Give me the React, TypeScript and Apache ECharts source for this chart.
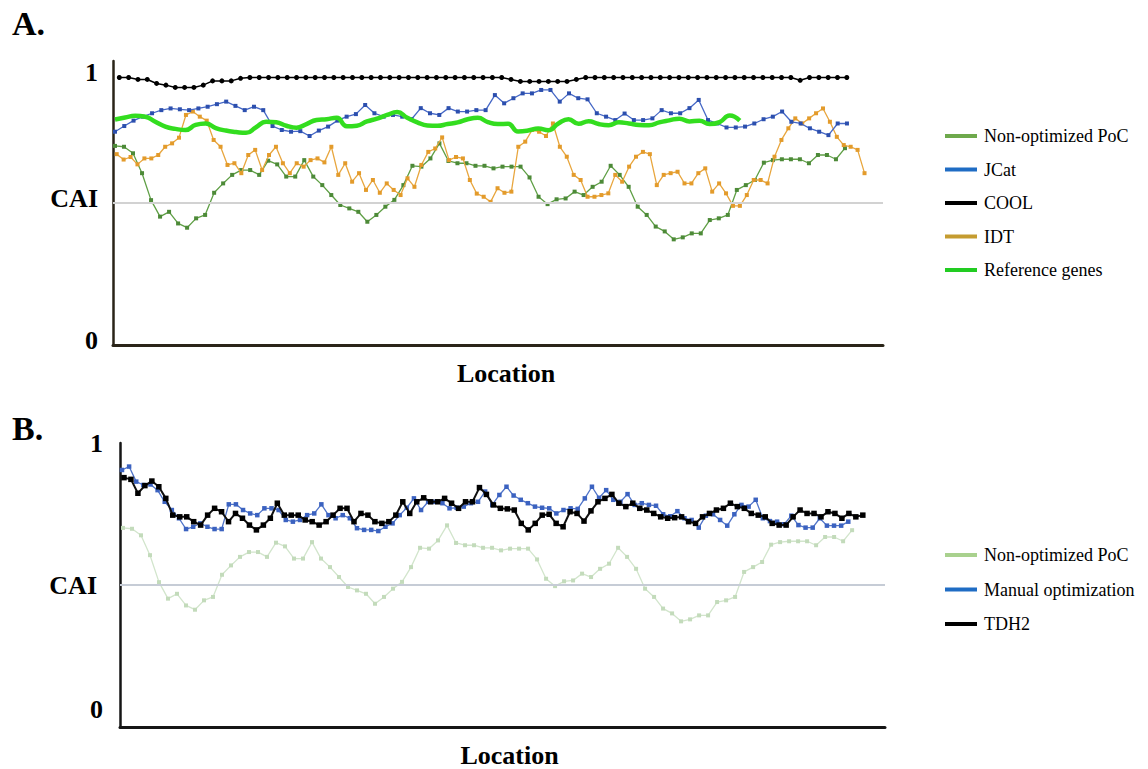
import { useEffect, useRef } from "react";
import * as echarts from "echarts";

// ---------- Data (CAI along the sequence location) ----------
const NON_OPTIMIZED = [
  0.701, 0.698, 0.675, 0.605, 0.51, 0.452, 0.469, 0.428, 0.413, 0.446, 0.458, 0.536, 0.569, 0.599, 0.616, 0.616,
  0.599, 0.649, 0.636, 0.593, 0.593, 0.651, 0.593, 0.563, 0.528, 0.493, 0.481, 0.469, 0.434, 0.458, 0.487, 0.511,
  0.563, 0.631, 0.628, 0.657, 0.71, 0.648, 0.64, 0.64, 0.631, 0.631, 0.622, 0.628,
  0.628, 0.628, 0.59, 0.522, 0.496, 0.513, 0.516, 0.54, 0.528,
  0.557, 0.575, 0.631, 0.599, 0.557, 0.487, 0.458, 0.417, 0.4, 0.372, 0.379, 0.393, 0.393, 0.44, 0.446, 0.458,
  0.546, 0.563, 0.581, 0.642, 0.651, 0.654, 0.654, 0.654, 0.64, 0.669, 0.669, 0.654, 0.693,
];

const JCAT = [
  0.751, 0.771, 0.79, 0.804, 0.816, 0.827, 0.833, 0.83, 0.827, 0.833, 0.839, 0.848, 0.857, 0.842, 0.827, 0.839,
  0.827, 0.771, 0.757, 0.751, 0.753, 0.736, 0.755, 0.769, 0.79, 0.804, 0.813,
  0.845, 0.816, 0.804, 0.81, 0.804, 0.795, 0.834, 0.816, 0.81, 0.834, 0.822, 0.822, 0.827, 0.827, 0.88, 0.851,
  0.869, 0.886, 0.886, 0.898, 0.898, 0.857, 0.886, 0.869, 0.865, 0.816, 0.804, 0.792, 0.815,
  0.792, 0.792, 0.798, 0.827, 0.816, 0.816, 0.834, 0.863, 0.792, 0.78, 0.766, 0.766, 0.769, 0.78, 0.795, 0.804,
  0.822, 0.786, 0.78, 0.763, 0.751, 0.739, 0.78, 0.78,
];

const COOL = [
  0.942, 0.942, 0.935, 0.935, 0.921, 0.915, 0.907, 0.907, 0.907, 0.915, 0.93, 0.93, 0.93, 0.939,
  0.942, 0.942, 0.942, 0.942, 0.942, 0.942, 0.942, 0.942, 0.942, 0.942, 0.942, 0.942, 0.942, 0.942,
  0.942, 0.942, 0.942, 0.942, 0.942, 0.942, 0.942, 0.942, 0.942, 0.942, 0.942, 0.942, 0.942, 0.942,
  0.935, 0.928, 0.928, 0.928, 0.928, 0.928, 0.928, 0.935,
  0.942, 0.942, 0.942, 0.942, 0.942, 0.942, 0.942, 0.942, 0.942, 0.942, 0.942, 0.942, 0.942, 0.942,
  0.942, 0.942, 0.942, 0.942, 0.942, 0.942, 0.942, 0.942, 0.942,
  0.932, 0.942, 0.942, 0.942, 0.942, 0.942,
];

const IDT = [
  0.672, 0.653, 0.662, 0.636, 0.657, 0.657, 0.669, 0.698, 0.71, 0.73, 0.81, 0.822, 0.804, 0.79, 0.722, 0.698,
  0.634, 0.64, 0.605, 0.669, 0.687, 0.616, 0.669, 0.698, 0.64, 0.605, 0.64, 0.628, 0.651, 0.657, 0.643, 0.698,
  0.599, 0.64, 0.575, 0.605, 0.546, 0.581, 0.536, 0.569, 0.546, 0.528, 0.587, 0.557, 0.634, 0.68, 0.692, 0.731,
  0.651, 0.662, 0.657, 0.581, 0.533, 0.522, 0.504, 0.552,
  0.536, 0.54, 0.698, 0.716, 0.757, 0.751, 0.736, 0.78, 0.698, 0.663, 0.599, 0.581, 0.522, 0.522, 0.528, 0.534,
  0.599, 0.575, 0.628, 0.663, 0.68, 0.672, 0.563, 0.599, 0.605, 0.61, 0.569, 0.569, 0.605, 0.622, 0.54, 0.569,
  0.534, 0.49, 0.49, 0.528, 0.581, 0.581, 0.569, 0.663, 0.722, 0.763, 0.798, 0.78, 0.798, 0.816, 0.833, 0.786,
  0.733, 0.704, 0.698, 0.687, 0.605,
];

const REFERENCE = [
  0.794, 0.801, 0.807, 0.804, 0.786, 0.769, 0.761, 0.757, 0.775, 0.78,
  0.764, 0.755, 0.75, 0.747, 0.767, 0.786, 0.784, 0.772, 0.765, 0.778,
  0.792, 0.795, 0.8, 0.77, 0.772, 0.787, 0.797, 0.81, 0.82, 0.8,
  0.784, 0.773, 0.772, 0.778, 0.784, 0.795, 0.8, 0.785, 0.778, 0.779,
  0.752, 0.755, 0.762, 0.756, 0.78, 0.795, 0.779, 0.788, 0.778, 0.774,
  0.784, 0.78, 0.775, 0.774, 0.784, 0.791, 0.797, 0.787, 0.79, 0.778,
  0.785, 0.808, 0.79,
];

const TDH2 = [
  0.878, 0.872, 0.823, 0.85, 0.866, 0.846, 0.805, 0.746, 0.74, 0.74, 0.723, 0.711, 0.746, 0.77, 0.758, 0.723,
  0.752, 0.735, 0.711, 0.694, 0.711, 0.735, 0.788, 0.746, 0.746, 0.746, 0.729, 0.723, 0.711, 0.723, 0.746, 0.77,
  0.77, 0.723, 0.752, 0.746, 0.723,
  0.717, 0.723, 0.746, 0.793, 0.752, 0.793, 0.807, 0.793, 0.793, 0.805, 0.788, 0.77, 0.793, 0.793, 0.843, 0.819,
  0.782, 0.77, 0.768, 0.764, 0.717, 0.694, 0.717, 0.746, 0.749, 0.717, 0.705, 0.758, 0.752, 0.725, 0.761, 0.793,
  0.805, 0.819, 0.788,
  0.776, 0.788, 0.77, 0.764, 0.752, 0.74, 0.735, 0.737, 0.74, 0.723, 0.717, 0.74, 0.752, 0.764, 0.77, 0.788,
  0.776, 0.77, 0.752, 0.746, 0.74, 0.717, 0.711, 0.711, 0.74, 0.764, 0.752, 0.752, 0.74, 0.758, 0.752, 0.735,
  0.752, 0.74, 0.746,
];

const MANUAL = [
  0.905, 0.917, 0.864, 0.852, 0.854, 0.834, 0.793, 0.764, 0.735, 0.697, 0.705, 0.717, 0.705, 0.697, 0.697, 0.784,
  0.784, 0.764, 0.752, 0.746, 0.77, 0.77, 0.764, 0.729, 0.723, 0.729, 0.746, 0.752, 0.784, 0.746, 0.735, 0.746,
  0.735, 0.7, 0.694, 0.694, 0.69,
  0.705, 0.717, 0.746, 0.772, 0.805, 0.764, 0.793, 0.793, 0.788, 0.77, 0.772, 0.776, 0.788, 0.793, 0.829, 0.782,
  0.817, 0.846, 0.815, 0.8, 0.788, 0.776, 0.772, 0.77, 0.752, 0.764, 0.77, 0.768, 0.805, 0.846, 0.807, 0.834,
  0.8, 0.793, 0.82,
  0.782, 0.788, 0.782, 0.779, 0.749, 0.742, 0.76, 0.735, 0.729, 0.702, 0.744, 0.749, 0.729, 0.709, 0.749, 0.782,
  0.776, 0.8, 0.735, 0.725, 0.723, 0.714, 0.744, 0.711, 0.702, 0.702, 0.735, 0.709, 0.709, 0.709, 0.723,
];

const Y_TICK_VALUES = [0, 0.5, 1];
const Y_TICK_LABELS = ["0", "CAI", "1"];
const THRESHOLD = 0.5;

const LEGEND_A = ["Non-optimized PoC", "JCat", "COOL", "IDT", "Reference genes"];
const LEGEND_B = ["Non-optimized PoC", "Manual optimization", "TDH2"];

// ---------- Layout / style (not data) ----------
const SERIF = "Liberation Serif";
// [start, end] of each series along the location axis (0..100)
const SPAN = {
  aNon: [0.26, 95.06],
  aJcat: [0.26, 95.32],
  aCool: [0.82, 95.3],
  aIdt: [0.48, 97.6],
  aRef: [0.26, 81.4],
  bNon: [0.39, 95.7],
  bManual: [0.26, 95.2],
  bTdh2: [0.52, 97.1],
};

function spread(values: number[], span: number[]) {
  const step = (span[1] - span[0]) / (values.length - 1);
  return values.map((v, i) => [span[0] + i * step, v]);
}

function yLabel(v: number, panel: "a" | "b") {
  const idx = Y_TICK_VALUES.indexOf(v);
  if (idx < 0) return "";
  const t = Y_TICK_LABELS[idx];
  const key = v === 1 ? "hi" : v === 0 ? "lo" : "mid";
  return `{${panel}${key}|${t}}`;
}

const labelFont = { fontFamily: SERIF, fontWeight: "bold" as const, fontSize: 26, color: "#000" };
const legendText = { fontFamily: SERIF, fontSize: 18, color: "#000", padding: [0, 0, 0, 2] };

export default function App() {
  const ref = useRef<HTMLDivElement>(null);

  useEffect(() => {
    document.body.style.margin = "0";
    if (!ref.current) return;
    const chart = echarts.init(ref.current, null, { renderer: "svg" });

    const xAxisBase = (gridIndex: number, color: string, width: number, pad: number) => ({
      type: "value" as const,
      gridIndex,
      min: 0,
      max: 100,
      axisLine: { show: true, lineStyle: { color, width } },
      axisTick: { show: false },
      axisLabel: { show: false },
      splitLine: { show: false },
      name: "Location",
      nameLocation: "middle" as const,
      nameGap: 28,
      nameTextStyle: { ...labelFont, verticalAlign: "middle", padding: [0, 0, 0, pad] },
    });

    const yAxisBase = (gridIndex: number, panel: "a" | "b", color: string, margin: number) => ({
      type: "value" as const,
      gridIndex,
      min: 0,
      max: 1,
      interval: 0.5,
      axisLine: { show: true, lineStyle: { color, width: 2.5 } },
      axisTick: { show: false },
      splitLine: { show: false },
      axisLabel: {
        margin,
        ...labelFont,
        formatter: (v: number) => yLabel(v, panel),
        rich: {
          ahi: { ...labelFont, padding: [22, 0, 0, 0] },
          alo: { ...labelFont, padding: [0, 0, 10, 0] },
          amid: { ...labelFont, padding: [0, 0, 10, 0] },
          bhi: { ...labelFont },
          blo: { ...labelFont, padding: [0, 0, 36, 0] },
          bmid: { ...labelFont, padding: [0, 6, 0, 0] },
        },
      },
    });

    const marked = (color: string, series: any) => ({
      ...series,
      markLine: {
        silent: true,
        symbol: "none",
        label: { show: false },
        lineStyle: { color, width: 2, type: "solid" },
        data: [{ yAxis: THRESHOLD }],
      },
    });

    const line = (
      name: string,
      data: number[][],
      axis: number,
      color: string,
      width: number,
      markerColor: string,
      symbol: string,
      size: number,
      z: number
    ) => ({
      name,
      type: "line" as const,
      xAxisIndex: axis,
      yAxisIndex: axis,
      data,
      symbol,
      symbolSize: size,
      showSymbol: true,
      lineStyle: { color, width },
      itemStyle: { color: markerColor },
      z,
    });

    const legendItem = (name: string, color: string) => ({
      name,
      itemStyle: { color },
      textStyle: legendText,
    });

    const option = {
      animation: false,
      backgroundColor: "#fff",
      textStyle: { fontFamily: SERIF },
      grid: [
        { left: 113, top: 61, width: 770, height: 284 },
        { left: 120, top: 443, width: 765, height: 284 },
      ],
      xAxis: [xAxisBase(0, "#2a2418", 3, 16), xAxisBase(1, "#151515", 3, 14)],
      yAxis: [yAxisBase(0, "a", "#2a2418", 15), yAxisBase(1, "b", "#151515", 17)],
      legend: [
        {
          orient: "vertical",
          left: 940,
          top: 122,
          icon: "rect",
          itemWidth: 32,
          itemHeight: 4,
          itemGap: 15.5,
          textStyle: legendText,
          data: [
            legendItem(LEGEND_A[0], "#6ea94c"),
            legendItem(LEGEND_A[1], "#1f6cc4"),
            legendItem(LEGEND_A[2], "#000000"),
            legendItem(LEGEND_A[3], "#c59c30"),
            legendItem(LEGEND_A[4], "#22cc22"),
          ],
        },
        {
          orient: "vertical",
          left: 940,
          top: 541,
          icon: "rect",
          itemWidth: 32,
          itemHeight: 4,
          itemGap: 16.5,
          textStyle: legendText,
          data: [
            legendItem(LEGEND_B[0], "#a9d18e"),
            legendItem(LEGEND_B[1], "#1f6cc4"),
            legendItem(LEGEND_B[2], "#000000"),
          ],
        },
      ],
      graphic: [
        { type: "text", x: 12, y: 23, style: { text: "A.", font: `bold 34px ${SERIF}`, fill: "#000", verticalAlign: "middle" } },
        { type: "text", x: 12, y: 428, style: { text: "B.", font: `bold 34px ${SERIF}`, fill: "#000", verticalAlign: "middle" } },
      ],
      series: [
        marked("#d2d2d2", line(LEGEND_A[0], spread(NON_OPTIMIZED, SPAN.aNon), 0, "#5f9f45", 1.3, "#4d8a38", "rect", 4, 2)),
        line(LEGEND_A[3], spread(IDT, SPAN.aIdt), 0, "#e8a63e", 1.3, "#e39b2b", "rect", 4, 3),
        line(LEGEND_A[1], spread(JCAT, SPAN.aJcat), 0, "#4668c6", 1.3, "#2c4fae", "rect", 4, 4),
        {
          name: LEGEND_A[4],
          type: "line",
          xAxisIndex: 0,
          yAxisIndex: 0,
          data: spread(REFERENCE, SPAN.aRef),
          symbol: "none",
          smooth: 0.5,
          lineStyle: { color: "#33dd1f", width: 4.5 },
          itemStyle: { color: "#33dd1f" },
          z: 5,
        },
        line(LEGEND_A[2], spread(COOL, SPAN.aCool), 0, "#000000", 1.5, "#000000", "circle", 5, 6),
        marked("#c6ccd6", line(LEGEND_B[0], spread(NON_OPTIMIZED, SPAN.bNon), 1, "#d2e5cc", 1.3, "#c3dbbb", "rect", 4, 2)),
        line(LEGEND_B[1], spread(MANUAL, SPAN.bManual), 1, "#5074c9", 1.3, "#3b62c0", "rect", 4.5, 3),
        line(LEGEND_B[2], spread(TDH2, SPAN.bTdh2), 1, "#111111", 2, "#000000", "rect", 5.5, 4),
      ],
    };

    chart.setOption(option as any);
    return () => chart.dispose();
  }, []);

  return <div ref={ref} style={{ width: 1148, height: 769 }} />;
}
